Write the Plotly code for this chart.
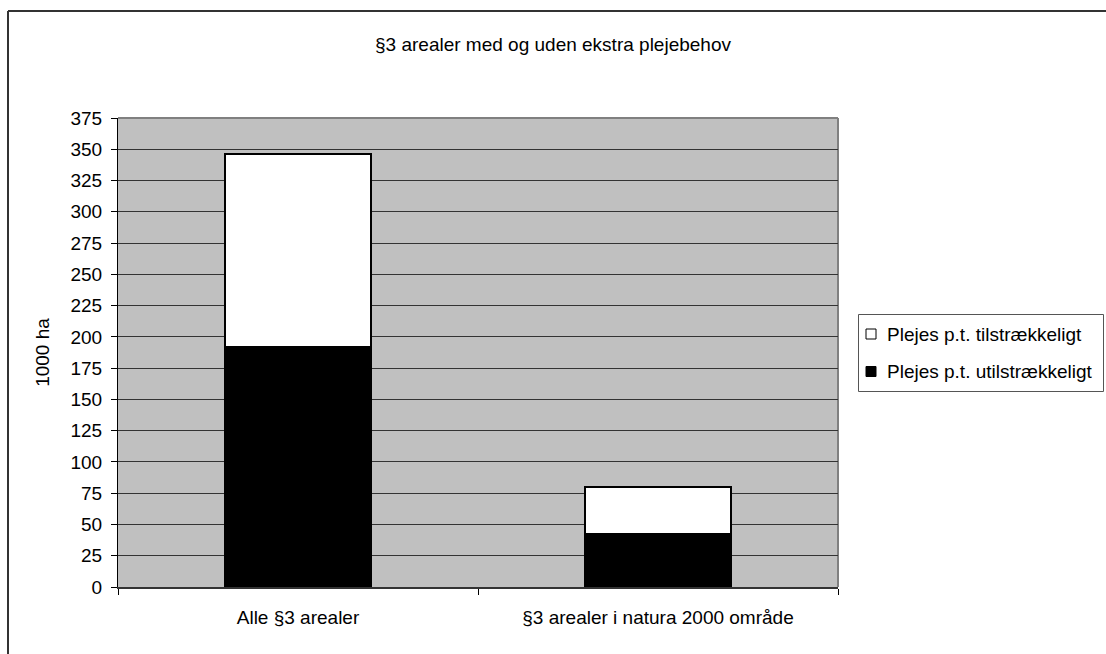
import plotly.graph_objects as go

# Data (1000 ha)
categories = ["Alle §3 arealer", "§3 arealer i natura 2000 område"]
utilstraekkeligt = [192, 42]
tilstraekkeligt = [154, 38]
series_names = ["Plejes p.t. utilstrækkeligt", "Plejes p.t. tilstrækkeligt"]
series_colors = ["black", "white"]
y_ticks = list(range(0, 376, 25))

FONT = "Liberation Sans"
W, H = 1106, 654
L, R, T, B = 118, 838, 118, 587

def px_x(px):
    return (px - L) / (R - L)

def px_y(py):
    return (B - py) / (B - T)

fig = go.Figure()
for vals, name, color in zip([utilstraekkeligt, tilstraekkeligt], series_names, series_colors):
    fig.add_trace(go.Bar(
        x=categories, y=vals, name=name,
        marker=dict(color=color, line=dict(color="black", width=2)),
    ))

# outer chart frame (top and left edges)
frame = dict(type="line", xref="paper", yref="paper",
             line=dict(color="#333333", width=2))
fig.add_shape(**frame, x0=px_x(8), x1=px_x(1110), y0=px_y(11), y1=px_y(11))
fig.add_shape(**frame, x0=px_x(8), x1=px_x(8), y0=px_y(11), y1=px_y(660))

# plot area border (grey, top and right)
fig.add_shape(type="line", xref="paper", yref="paper", x0=0, x1=1, y0=1, y1=1,
              line=dict(color="#808080", width=2), layer="below")
fig.add_shape(type="line", xref="paper", yref="paper", x0=1, x1=1, y0=0, y1=1,
              line=dict(color="#808080", width=2), layer="below")

# legend box, with the top series listed first
fig.add_shape(type="rect", xref="paper", yref="paper",
              x0=px_x(858.5), x1=px_x(1103.5), y0=px_y(314.5), y1=px_y(391.5),
              line=dict(color="#555555", width=1), fillcolor="white")
legend_rows = [(series_names[1], series_colors[1], 334), (series_names[0], series_colors[0], 371.5)]
for name, color, yc in legend_rows:
    fig.add_shape(type="rect", xref="paper", yref="paper",
                  x0=px_x(866), x1=px_x(876), y0=px_y(yc - 5), y1=px_y(yc + 5),
                  line=dict(color="black", width=1), fillcolor=color)
    fig.add_annotation(text=name, xref="paper", yref="paper",
                       x=px_x(885), y=px_y(yc), xanchor="left", yanchor="middle",
                       showarrow=False, font=dict(family=FONT, size=19, color="black"))

fig.update_layout(
    width=W, height=H,
    margin=dict(l=L, r=W - R, t=T, b=H - B, autoexpand=False),
    paper_bgcolor="white",
    plot_bgcolor="#C0C0C0",
    barmode="stack",
    bargap=0.595,
    showlegend=False,
    font=dict(family=FONT, size=19, color="black"),
    title=dict(text="§3 arealer med og uden ekstra plejebehov",
               xref="container", x=0.5, xanchor="center",
               yref="container", y=1 - 44 / H, yanchor="middle",
               font=dict(family=FONT, size=19, color="black")),
    xaxis=dict(
        showgrid=False,
        showline=True, linecolor="#333333", linewidth=2,
        ticks="outside", tickson="boundaries", ticklen=6, tickcolor="black",
        ticklabelstandoff=12,
        tickfont=dict(family=FONT, size=19),
    ),
    yaxis=dict(
        range=[0, 375],
        tickvals=y_ticks,
        showgrid=True, gridcolor="#333333", gridwidth=1,
        showline=True, linecolor="black", linewidth=1,
        ticks="outside", ticklen=6, tickcolor="black",
        ticklabelstandoff=5,
        tickfont=dict(family=FONT, size=19),
        zeroline=False,
        title=dict(text="1000 ha", standoff=15,
                   font=dict(family=FONT, size=19)),
    ),
)

fig.write_html("out.html")
